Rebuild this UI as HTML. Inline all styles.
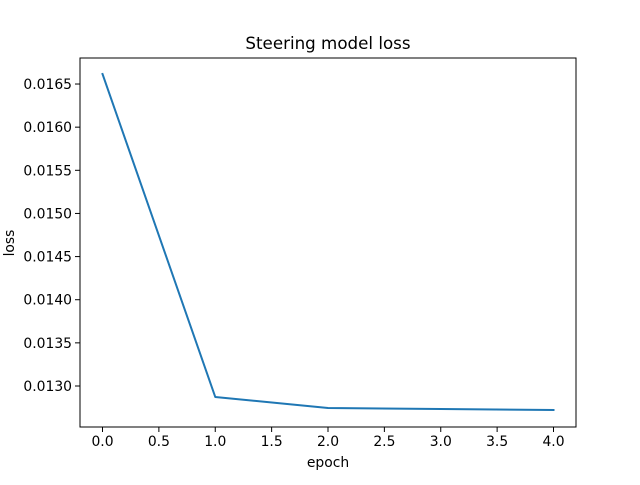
<!DOCTYPE html>
<html><head><meta charset="utf-8"><style>
body{margin:0;background:#fff;}
svg text{font-family:"DejaVu Sans","Liberation Sans",sans-serif;fill:#000;}
</style></head><body>
<svg id="chart" width="640" height="480" xmlns="http://www.w3.org/2000/svg">
<rect width="640" height="480" fill="#fff"/>
<text x="328" y="49" font-size="16.7" text-anchor="middle">Steering model loss</text>
<text x="328" y="467" font-size="13.9" text-anchor="middle">epoch</text>
<text x="0" y="0" font-size="13.9" text-anchor="middle" transform="translate(14,243) rotate(-90)">loss</text>
<g id="ticks"></g>
<polyline id="line" fill="none" stroke="#1f77b4" stroke-width="2" stroke-linejoin="round" stroke-linecap="square"/>
<rect x="80" y="58" width="496" height="369" fill="none" stroke="#000" stroke-width="1"/>
</svg>
<script>
const epochs=[0,1,2,3,4];
const loss=[0.016616,0.012873,0.012745,0.012733,0.012722];
const xTicks=[0,0.5,1,1.5,2,2.5,3,3.5,4];
const xTickLabels=["0.0","0.5","1.0","1.5","2.0","2.5","3.0","3.5","4.0"];
const yTicks=[0.0130,0.0135,0.0140,0.0145,0.0150,0.0155,0.0160,0.0165];
const yTickLabels=["0.0130","0.0135","0.0140","0.0145","0.0150","0.0155","0.0160","0.0165"];
function xs(v){return 102.5+v*112.75;}
function ys(v){return 386-(v-0.0130)/0.0005*43.14;}
const NS="http://www.w3.org/2000/svg";
const g=document.getElementById('ticks');
xTicks.forEach((t,i)=>{
 const l=document.createElementNS(NS,'line');
 
 
 l.setAttribute('x1',xs(t));l.setAttribute('x2',xs(t));l.setAttribute('y1',427);l.setAttribute('y2',432);l.setAttribute('stroke','#000');l.setAttribute('stroke-width','1');g.appendChild(l);
 const tx=document.createElementNS(NS,'text');
 
 
 tx.setAttribute('x',xs(t));tx.setAttribute('y',446);tx.setAttribute('font-size','13.9');tx.setAttribute('text-anchor','middle');tx.textContent=xTickLabels[i];g.appendChild(tx);
});
yTicks.forEach((t,i)=>{
 const l=document.createElementNS(NS,'line');
 
 
 l.setAttribute('x1',75);l.setAttribute('x2',80);l.setAttribute('y1',ys(t));l.setAttribute('y2',ys(t));l.setAttribute('stroke','#000');l.setAttribute('stroke-width','1');g.appendChild(l);
 const tx=document.createElementNS(NS,'text');
 
 
 tx.setAttribute('x',72);tx.setAttribute('y',ys(t)+5);tx.setAttribute('font-size','13.9');tx.setAttribute('text-anchor','end');tx.textContent=yTickLabels[i];g.appendChild(tx);
});
document.getElementById('line').setAttribute('points',epochs.map((e,i)=>xs(e)+','+ys(loss[i])).join(' '));
</script>
</body></html>
